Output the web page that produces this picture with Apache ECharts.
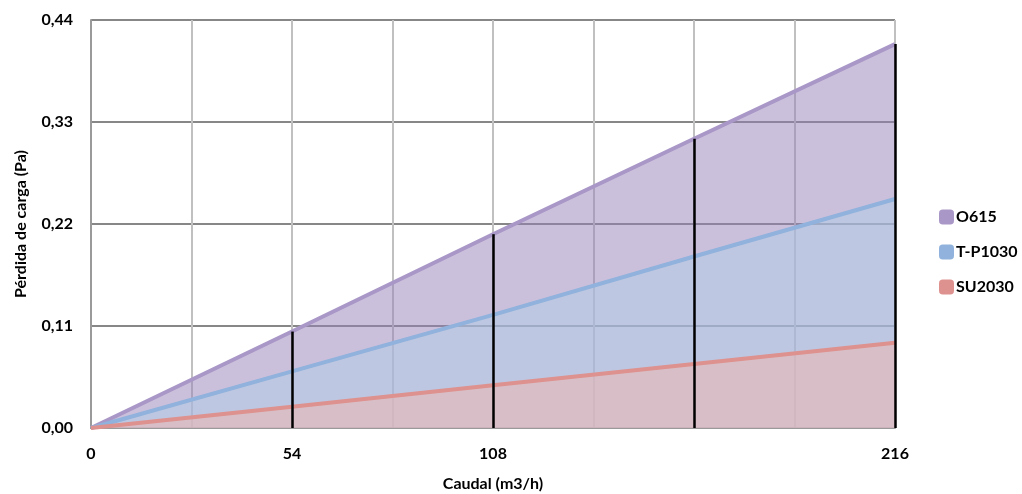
<!DOCTYPE html>
<html>
<head>
<meta charset="utf-8">
<script src="https://cdn.jsdelivr.net/npm/echarts@6/dist/echarts.min.js"></script>
<style>
html,body{margin:0;padding:0;background:#fff;}
#c{width:1022px;height:494px;}
</style>
</head>
<body>
<div id="c"></div>
<script>
// Data
const caudal = [0, 54, 108, 162, 216];
const o615 = [0, 0.104, 0.209, 0.312, 0.414];
const tp1030 = [0, 0.061, 0.122, 0.185, 0.247];
const su2030 = [0, 0.023, 0.046, 0.069, 0.092];
const xTickLabels = [0, 54, 108, 216];

const font = 'Lato';
const pairs = (arr) => caudal.map((x, i) => [x, arr[i]]);

const dropLines = caudal
  .map((x, i) => [x, o615[i]])
  .filter(p => p[0] > 0)
  .map(p => [{ coord: [p[0], 0] }, { coord: [p[0], p[1]] }]);

const txt = { fontFamily: font, fontWeight: 'bold', fontSize: 16, color: '#000' };

const chart = echarts.init(document.getElementById('c'));
chart.setOption({
  animation: false,
  grid: { left: 91, right: 127, top: 20, bottom: 66, containLabel: false, outerBoundsMode: 'none' },
  legend: {
    orient: 'vertical',
    left: 934,
    top: 204,
    itemWidth: 15,
    itemHeight: 15,
    itemGap: 19,
    icon: 'roundRect',
    data: ['O615', 'T-P1030', 'SU2030'],
    textStyle: Object.assign({}, txt, { padding: [0, 0, 0, -3] })
  },
  xAxis: {
    type: 'value',
    min: 0, max: 216, interval: 27,
    name: 'Caudal (m3/h)',
    nameLocation: 'middle',
    nameGap: 48,
    nameTextStyle: txt,
    axisLine: { show: true, lineStyle: { color: '#9a9a9a', width: 2 } },
    axisTick: { show: false },
    axisLabel: Object.assign({}, txt, {
      margin: 18,
      formatter: v => xTickLabels.indexOf(v) >= 0 ? String(v) : ''
    }),
    splitLine: { show: true, lineStyle: { color: '#c0c0c0', width: 2 } }
  },
  yAxis: {
    type: 'value',
    min: 0, max: 0.44, interval: 0.11,
    name: 'Pérdida de carga (Pa)',
    nameLocation: 'middle',
    nameGap: 62,
    nameTextStyle: txt,
    axisLine: { show: true, lineStyle: { color: '#9a9a9a', width: 2 } },
    axisTick: { show: false },
    axisLabel: Object.assign({}, txt, {
      margin: 18,
      formatter: v => v.toFixed(2).replace('.', ',')
    }),
    splitLine: { show: true, lineStyle: { color: '#878787', width: 2 } }
  },
  series: [
    {
      name: 'O615', type: 'line', data: pairs(o615),
      showSymbol: false, symbol: 'none',
      itemStyle: { color: '#a997c7' },
      lineStyle: { color: '#a997c7', width: 4 },
      areaStyle: { color: '#9781b9', opacity: 0.5 }
    },
    {
      name: 'T-P1030', type: 'line', data: pairs(tp1030),
      showSymbol: false, symbol: 'none',
      itemStyle: { color: '#91b2dc' },
      lineStyle: { color: '#91b2dc', width: 4 },
      areaStyle: { color: '#afd0e8', opacity: 0.5 }
    },
    {
      name: 'SU2030', type: 'line', data: pairs(su2030),
      showSymbol: false, symbol: 'none',
      itemStyle: { color: '#de928f' },
      lineStyle: { color: '#de928f', width: 4 },
      areaStyle: { color: '#f3b8ae', opacity: 0.5 }
    },
    {
      name: 'drop', type: 'line', data: [], z: 10,
      markLine: {
        silent: true, symbol: ['none', 'none'], label: { show: false },
        lineStyle: { color: '#000', width: 2.5, type: 'solid' },
        data: dropLines
      }
    }
  ]
});
</script>
</body>
</html>
